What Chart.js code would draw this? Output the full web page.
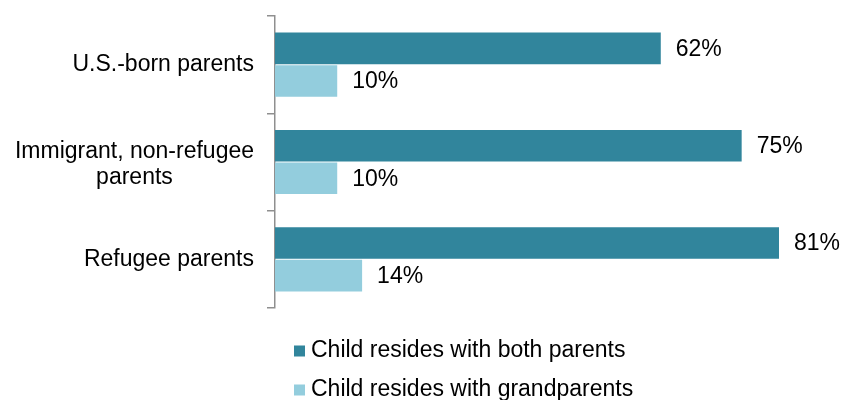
<!DOCTYPE html>
<html>
<head>
<meta charset="utf-8">
<script src="https://cdn.jsdelivr.net/npm/chart.js@4.4.0/dist/chart.umd.min.js"></script>
<style>
  html, body { margin: 0; padding: 0; background: #fff; }
  canvas { display: block; }
</style>
</head>
<body>
<canvas id="chart" width="844" height="400"></canvas>
<script>
const categories = [['U.S.-born parents'], ['Immigrant, non-refugee', 'parents'], ['Refugee parents']];
const bothParents = [62, 75, 81];
const grandparents = [10, 10, 14];
const seriesNames = ['Child resides with both parents', 'Child resides with grandparents'];

const COLORS = ['#31859C', '#93CDDD'];
const FONT = '23px "Liberation Sans", Arial, sans-serif';

// value labels, category labels and the stacked legend are drawn by hand
const textPlugin = {
  id: 'textPlugin',
  afterDraw(chart) {
    const ctx = chart.ctx;
    const area = chart.chartArea;
    ctx.save();
    ctx.font = FONT;
    ctx.fillStyle = '#000';
    ctx.textBaseline = 'middle';

    chart.data.datasets.forEach((ds, i) => {
      chart.getDatasetMeta(i).data.forEach((bar, j) => {
        ctx.textAlign = 'left';
        ctx.fillText(ds.data[j] + '%', bar.x + 15, bar.y + 1);
      });
    });

    const yScale = chart.scales.y;
    const right = area.left - 21;
    categories.forEach((lines, j) => {
      const cy = yScale.getPixelForValue(j);
      const w = Math.max(...lines.map(l => ctx.measureText(l).width));
      ctx.textAlign = 'center';
      const shift = lines.length > 1 ? 3 : 0;
      lines.forEach((l, k) => {
        ctx.fillText(l, right - w / 2, cy + (k - (lines.length - 1) / 2) * 26 + shift);
      });
    });

    chart.data.datasets.forEach((ds, i) => {
      const cy = area.bottom + 43 + i * 39;
      ctx.fillStyle = ds.backgroundColor;
      ctx.fillRect(area.left + 19, cy - 5.5, 11, 11);
      ctx.fillStyle = '#000';
      ctx.textAlign = 'left';
      ctx.fillText(ds.label, area.left + 36, cy);
    });
    ctx.restore();
  }
};

new Chart(document.getElementById('chart'), {
  type: 'bar',
  data: {
    labels: categories.map(c => c.join(' ')),
    datasets: [
      { label: seriesNames[0], data: bothParents, backgroundColor: COLORS[0] },
      { label: seriesNames[1], data: grandparents, backgroundColor: COLORS[1] }
    ]
  },
  options: {
    indexAxis: 'y',
    responsive: false,
    animation: false,
    devicePixelRatio: 1,
    layout: { padding: { top: 16, bottom: 92, right: 9, left: 0 } },
    datasets: { bar: { barPercentage: 0.97, categoryPercentage: 0.67 } },
    plugins: { legend: { display: false }, tooltip: { enabled: false } },
    scales: {
      x: { display: false, min: 0, max: 90 },
      y: {
        afterFit(s) { s.width = 275; },
        ticks: { display: false },
        grid: { drawOnChartArea: false, drawTicks: true, tickLength: 8, color: '#8f8f8f', lineWidth: 1.5, offset: true },
        border: { color: '#8f8f8f', width: 1.5 }
      }
    }
  },
  plugins: [textPlugin]
});
</script>
</body>
</html>
